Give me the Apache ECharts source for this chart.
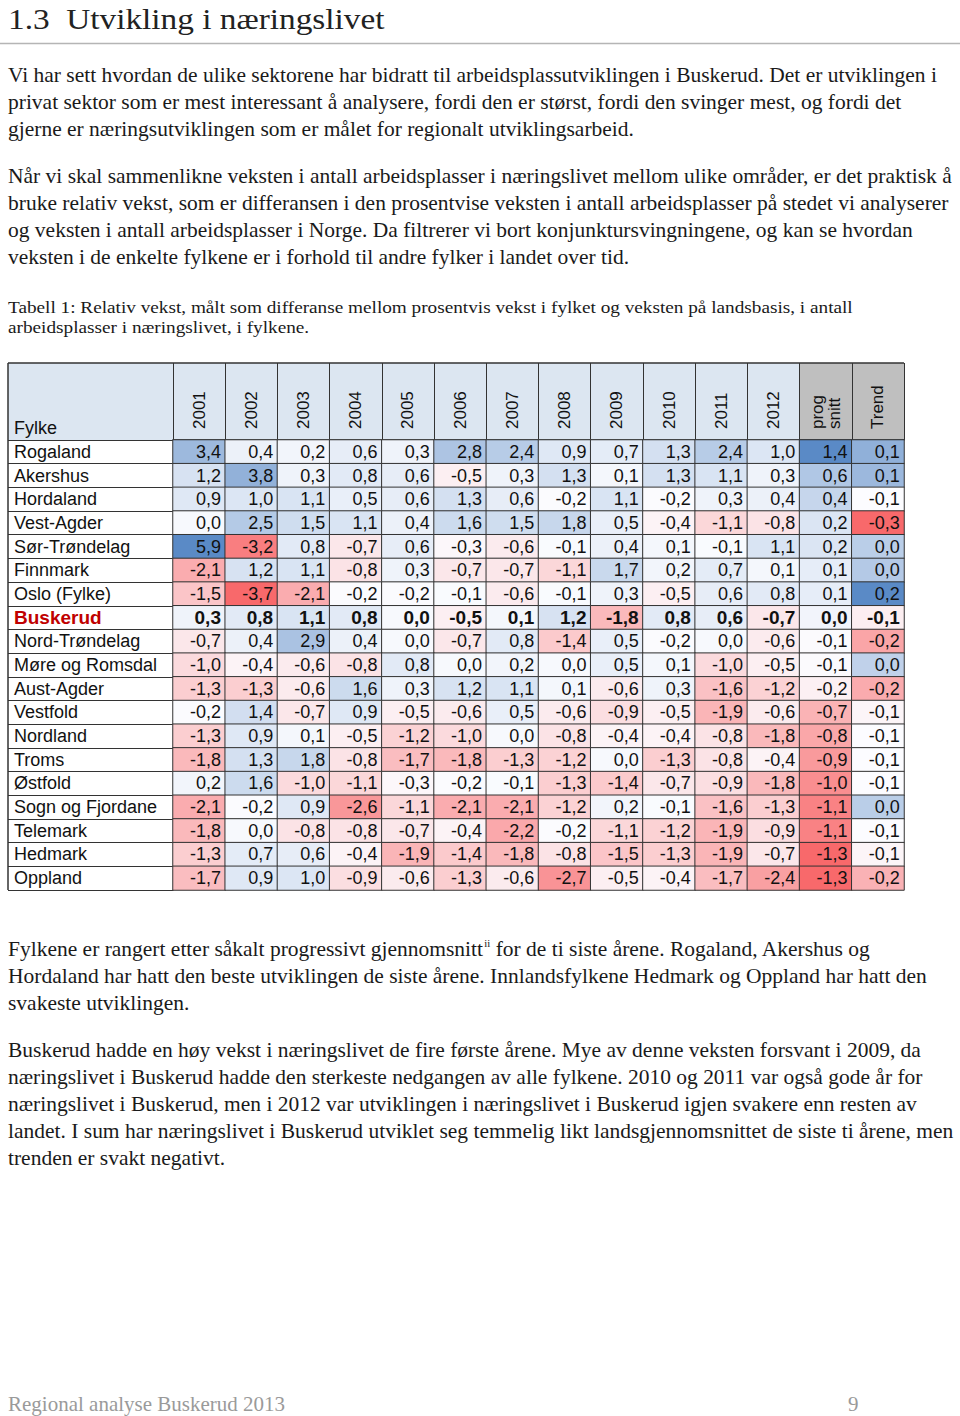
<!DOCTYPE html>
<html><head><meta charset="utf-8">
<script src="https://cdn.jsdelivr.net/npm/echarts@6/dist/echarts.min.js"></script>
<style>html,body{margin:0;padding:0;background:#fff}#c{width:960px;height:1416px}</style>
</head><body><div id="c"></div>
<script>
// ---------- data ----------
const years = ['2001','2002','2003','2004','2005','2006','2007','2008','2009','2010','2011','2012'];
const extraCols = ['prog\nsnitt', 'Trend'];
const counties = ['Rogaland','Akershus','Hordaland','Vest-Agder','Sør-Trøndelag','Finnmark','Oslo (Fylke)','Buskerud',
  'Nord-Trøndelag','Møre og Romsdal','Aust-Agder','Vestfold','Nordland','Troms','Østfold','Sogn og Fjordane',
  'Telemark','Hedmark','Oppland'];
const highlightCounty = 'Buskerud';
// relative growth per county, 2001..2012
const relGrowth = [
  [ 3.4, 0.4, 0.2, 0.6, 0.3, 2.8, 2.4, 0.9, 0.7, 1.3, 2.4, 1.0],
  [ 1.2, 3.8, 0.3, 0.8, 0.6,-0.5, 0.3, 1.3, 0.1, 1.3, 1.1, 0.3],
  [ 0.9, 1.0, 1.1, 0.5, 0.6, 1.3, 0.6,-0.2, 1.1,-0.2, 0.3, 0.4],
  [ 0.0, 2.5, 1.5, 1.1, 0.4, 1.6, 1.5, 1.8, 0.5,-0.4,-1.1,-0.8],
  [ 5.9,-3.2, 0.8,-0.7, 0.6,-0.3,-0.6,-0.1, 0.4, 0.1,-0.1, 1.1],
  [-2.1, 1.2, 1.1,-0.8, 0.3,-0.7,-0.7,-1.1, 1.7, 0.2, 0.7, 0.1],
  [-1.5,-3.7,-2.1,-0.2,-0.2,-0.1,-0.6,-0.1, 0.3,-0.5, 0.6, 0.8],
  [ 0.3, 0.8, 1.1, 0.8, 0.0,-0.5, 0.1, 1.2,-1.8, 0.8, 0.6,-0.7],
  [-0.7, 0.4, 2.9, 0.4, 0.0,-0.7, 0.8,-1.4, 0.5,-0.2, 0.0,-0.6],
  [-1.0,-0.4,-0.6,-0.8, 0.8, 0.0, 0.2, 0.0, 0.5, 0.1,-1.0,-0.5],
  [-1.3,-1.3,-0.6, 1.6, 0.3, 1.2, 1.1, 0.1,-0.6, 0.3,-1.6,-1.2],
  [-0.2, 1.4,-0.7, 0.9,-0.5,-0.6, 0.5,-0.6,-0.9,-0.5,-1.9,-0.6],
  [-1.3, 0.9, 0.1,-0.5,-1.2,-1.0, 0.0,-0.8,-0.4,-0.4,-0.8,-1.8],
  [-1.8, 1.3, 1.8,-0.8,-1.7,-1.8,-1.3,-1.2, 0.0,-1.3,-0.8,-0.4],
  [ 0.2, 1.6,-1.0,-1.1,-0.3,-0.2,-0.1,-1.3,-1.4,-0.7,-0.9,-1.8],
  [-2.1,-0.2, 0.9,-2.6,-1.1,-2.1,-2.1,-1.2, 0.2,-0.1,-1.6,-1.3],
  [-1.8, 0.0,-0.8,-0.8,-0.7,-0.4,-2.2,-0.2,-1.1,-1.2,-1.9,-0.9],
  [-1.3, 0.7, 0.6,-0.4,-1.9,-1.4,-1.8,-0.8,-1.5,-1.3,-1.9,-0.7],
  [-1.7, 0.9, 1.0,-0.9,-0.6,-1.3,-0.6,-2.7,-0.5,-0.4,-1.7,-2.4]
];
const progSnitt = [1.4,0.6,0.4,0.2,0.2,0.1,0.1,0.0,-0.1,-0.1,-0.2,-0.7,-0.8,-0.9,-1.0,-1.1,-1.1,-1.3,-1.3];
// trend (estimated with extra precision from the cell shading; shown with one decimal)
const trend = [0.10,0.08,-0.08,-0.30,0.03,0.04,0.19,-0.10,-0.21,0.02,-0.20,-0.09,-0.08,-0.08,-0.08,0.03,-0.08,-0.09,-0.19];

// ---------- text ----------
const titleText = '1.3  Utvikling i næringslivet';
const para1 = [
 'Vi har sett hvordan de ulike sektorene har bidratt til arbeidsplassutviklingen i Buskerud. Det er utviklingen i',
 'privat sektor som er mest interessant å analysere, fordi den er størst, fordi den svinger mest, og fordi det',
 'gjerne er næringsutviklingen som er målet for regionalt utviklingsarbeid.'];
const para2 = [
 'Når vi skal sammenlikne veksten i antall arbeidsplasser i næringslivet mellom ulike områder, er det praktisk å',
 'bruke relativ vekst, som er differansen i den prosentvise veksten i antall arbeidsplasser på stedet vi analyserer',
 'og veksten i antall arbeidsplasser i Norge. Da filtrerer vi bort konjunktursvingningene, og kan se hvordan',
 'veksten i de enkelte fylkene er i forhold til andre fylker i landet over tid.'];
const caption = [
 'Tabell 1: Relativ vekst, målt som differanse mellom prosentvis vekst i fylket og veksten på landsbasis, i antall',
 'arbeidsplasser i næringslivet, i fylkene.'];
const para3 = [
 'Fylkene er rangert etter såkalt progressivt gjennomsnitt{sup|ii} for de ti siste årene. Rogaland, Akershus og',
 'Hordaland har hatt den beste utviklingen de siste årene. Innlandsfylkene Hedmark og Oppland har hatt den',
 'svakeste utviklingen.'];
const para4 = [
 'Buskerud hadde en høy vekst i næringslivet de fire første årene. Mye av denne veksten forsvant i 2009, da',
 'næringslivet i Buskerud hadde den sterkeste nedgangen av alle fylkene. 2010 og 2011 var også gode år for',
 'næringslivet i Buskerud, men i 2012 var utviklingen i næringslivet i Buskerud igjen svakere enn resten av',
 'landet. I sum har næringslivet i Buskerud utviklet seg temmelig likt landsgjennomsnittet de siste ti årene, men',
 'trenden er svakt negativt.'];
const footerLeft = 'Regional analyse Buskerud 2013';
const footerPage = '9';

// ---------- helpers ----------
function hex(c){return [parseInt(c.slice(1,3),16),parseInt(c.slice(3,5),16),parseInt(c.slice(5,7),16)];}
function lerp(a,b,t){const A=hex(a),B=hex(b);return 'rgb('+A.map((v,i)=>Math.round(v+(B[i]-v)*t)).join(',')+')';}
const RED='#f8696b', WHITE='#fcfcff', BLUE='#5a8ac6';
function scaleColors(min, mid, max){
  const n=61, out=[];
  for(let i=0;i<n;i++){
    const v=min+(max-min)*i/(n-1);
    if(v<=mid) out.push(lerp(RED,WHITE,(v-min)/(mid-min)));
    else out.push(lerp(WHITE,BLUE,(v-mid)/(max-mid)));
  }
  return out;
}
function median(arr){const s=[...arr].sort((a,b)=>a-b);const m=(s.length-1)/2;return (s[Math.floor(m)]+s[Math.ceil(m)])/2;}
function fmt(v){let s=v.toFixed(1); if(s==='-0.0') s='0.0'; return s.replace('.',',');}

const hi = counties.indexOf(highlightCounty);
function item(x,y,v){
  const d={value:[x,y,v]};
  if(y===hi) d.label={fontWeight:'bold',fontSize:19};
  return d;
}
const yearData=[], progData=[], trendData=[];
relGrowth.forEach((row,r)=>row.forEach((v,c)=>yearData.push(item(c,r,v))));
progSnitt.forEach((v,r)=>progData.push(item(years.length,r,v)));
trend.forEach((v,r)=>trendData.push(item(years.length+1,r,v)));
const allYear = relGrowth.flat();

// ---------- layout ----------
const T={left:173,right:904,top:440,bottom:890,headTop:363,tableLeft:8};
const nCols = years.length+extraCols.length;
const colW=(T.right-T.left)/nCols;
const SERIF='"Liberation Serif", "DejaVu Serif", serif';
const SANS='"Liberation Sans", Arial, sans-serif';
const BODY_FS=20, BODY_SX=1.075;

const graphics=[];
function textLines(lines, y0, lh, fs, sx){
  lines.forEach((t,i)=>graphics.push({type:'text',x:8,y:y0+i*lh,scaleX:sx,silent:true,
    style:{text:t,x:0,y:0,fill:'#1a1a1a',font:fs+'px '+SERIF,textVerticalAlign:'middle',
      rich:{sup:{fontSize:10,fontFamily:SERIF,fill:'#1a1a1a',verticalAlign:'top',padding:[0,0,8,1]}}}}));
}
graphics.push({type:'text',x:8,y:19,scaleX:1.11,silent:true,style:{text:titleText,fill:'#222',font:'30px '+SERIF,textVerticalAlign:'middle'}});
graphics.push({type:'line',silent:true,shape:{x1:0,y1:43.5,x2:960,y2:43.5},style:{stroke:'#b5b5b5',lineWidth:1.5}});
textLines(para1,75,27,BODY_FS,BODY_SX);
textLines(para2,176,27,BODY_FS,BODY_SX);
textLines(caption,307,20.5,17.5,1.1);
textLines(para3,949,27,BODY_FS,BODY_SX);
textLines(para4,1050,27,BODY_FS,BODY_SX);
graphics.push({type:'text',x:8,y:1404,silent:true,style:{text:footerLeft,fill:'#9a9a9a',font:'21px '+SERIF,textVerticalAlign:'middle'}});
graphics.push({type:'text',x:848,y:1404,silent:true,style:{text:footerPage,fill:'#9a9a9a',font:'21px '+SERIF,textVerticalAlign:'middle'}});
// table header backgrounds and borders
const splitX=T.left+years.length*colW;
graphics.push({type:'rect',silent:true,z:-1,shape:{x:T.tableLeft,y:T.headTop,width:splitX-T.tableLeft,height:T.top-T.headTop},style:{fill:'#dce6f1'}});
graphics.push({type:'rect',silent:true,z:-1,shape:{x:splitX,y:T.headTop,width:T.right-splitX,height:T.top-T.headTop},style:{fill:'#bfbfbf'}});
graphics.push({type:'line',silent:true,shape:{x1:T.tableLeft,y1:T.headTop,x2:T.right,y2:T.headTop},style:{stroke:'#333',lineWidth:1.5}});
graphics.push({type:'line',silent:true,shape:{x1:T.tableLeft,y1:T.headTop,x2:T.tableLeft,y2:T.bottom},style:{stroke:'#333',lineWidth:1.5}});
graphics.push({type:'text',x:14,y:428,silent:true,style:{text:'Fylke',fill:'#111',font:'18px '+SANS,textVerticalAlign:'middle'}});

const labelStyle={show:true,position:'insideRight',distance:5,color:'#111',fontSize:18,fontFamily:SANS,formatter:p=>fmt(p.value[2])};
const cellStyle={borderColor:'#333',borderWidth:1};
function hm(data){return {type:'heatmap',data,label:labelStyle,itemStyle:cellStyle,emphasis:{disabled:true},progressive:0};}

const chart=echarts.init(document.getElementById('c'),null,{renderer:'svg',width:960,height:1416});
chart.setOption({
  animation:false,
  backgroundColor:'#fff',
  grid:{left:T.left,top:T.top,width:T.right-T.left,height:T.bottom-T.top,containLabel:false},
  xAxis:{type:'category',position:'top',data:years.concat(extraCols),
    axisLine:{show:true,lineStyle:{color:'#333',width:1.5}},
    axisTick:{show:true,length:T.top-T.headTop,lineStyle:{color:'#333',width:1}},
    axisLabel:{rotate:-90,margin:11,fontSize:17,fontFamily:SANS,color:'#111',lineHeight:17,interval:0},
    splitLine:{show:false}},
  yAxis:{type:'category',inverse:true,data:counties,
    axisLine:{show:true,lineStyle:{color:'#333',width:1}},
    axisTick:{show:true,length:T.left-T.tableLeft,lineStyle:{color:'#333',width:1}},
    axisLabel:{align:'left',margin:T.left-14,fontSize:18,fontFamily:SANS,color:'#111',interval:0,
      formatter:v=>v===highlightCounty?'{b|'+v+'}':v,
      rich:{b:{fontSize:19,fontWeight:'bold',color:'#c00000',fontFamily:SANS}}},
    splitLine:{show:false}},
  visualMap:[
    {type:'continuous',show:false,seriesIndex:0,dimension:2,min:Math.min(...allYear),max:Math.max(...allYear),
      inRange:{color:scaleColors(Math.min(...allYear),median(allYear),Math.max(...allYear))}},
    {type:'continuous',show:false,seriesIndex:1,dimension:2,min:Math.min(...progSnitt),max:Math.max(...progSnitt),
      inRange:{color:scaleColors(Math.min(...progSnitt),median(progSnitt),Math.max(...progSnitt))}},
    {type:'continuous',show:false,seriesIndex:2,dimension:2,min:Math.min(...trend),max:Math.max(...trend),
      inRange:{color:scaleColors(Math.min(...trend),median(trend),Math.max(...trend))}}
  ],
  series:[hm(yearData),hm(progData),hm(trendData)],
  graphic:{elements:graphics}
});
</script></body></html>
